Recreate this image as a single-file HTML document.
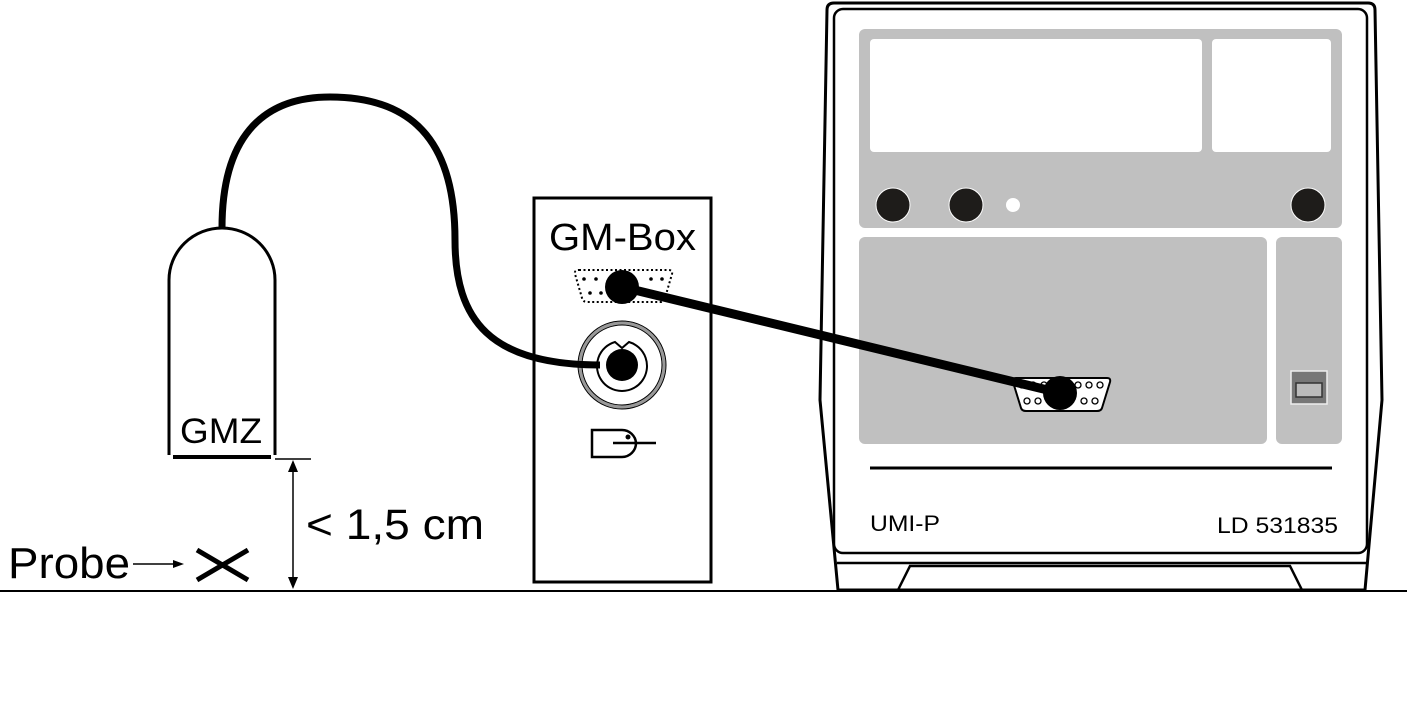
<!DOCTYPE html>
<html><head><meta charset="utf-8"><style>
html,body{margin:0;padding:0;background:#fff;}
svg{display:block;}
text{font-family:"Liberation Sans",sans-serif;fill:#000;}
</style></head><body>
<svg width="1407" height="711" viewBox="0 0 1407 711" xmlns="http://www.w3.org/2000/svg">
<line x1="0" y1="591" x2="1407" y2="591" stroke="#000" stroke-width="2"/>

<!-- UMI-P device -->
<path d="M834,3 L1368,3 Q1375,3 1375,10 L1382,400 L1365,590 L838,590 L820,400 L827,10 Q827,3 834,3 Z" fill="#fff" stroke="#000" stroke-width="3"/>
<rect x="834" y="9" width="533" height="544" rx="9" fill="#fff" stroke="#000" stroke-width="2.5"/>
<line x1="837" y1="563" x2="1366" y2="563" stroke="#000" stroke-width="2.5"/>
<path d="M898,590 L910,566 L1290,566 L1302,590" fill="none" stroke="#000" stroke-width="2.5"/>
<rect x="859" y="29" width="483" height="199" rx="6" fill="#c0c0c0"/>
<rect x="870" y="39" width="332" height="113" rx="4" fill="#fff"/>
<rect x="1212" y="39" width="119" height="113" rx="4" fill="#fff"/>
<circle cx="893" cy="205" r="17" fill="#1e1c1a" stroke="#fff" stroke-width="1"/>
<circle cx="966" cy="205" r="17" fill="#1e1c1a" stroke="#fff" stroke-width="1"/>
<circle cx="1308" cy="205" r="17" fill="#1e1c1a" stroke="#fff" stroke-width="1"/>
<circle cx="1013" cy="205" r="7" fill="#fff"/>
<rect x="859" y="237" width="408" height="207" rx="6" fill="#c0c0c0"/>
<rect x="1276" y="237" width="66" height="207" rx="6" fill="#c0c0c0"/>
<rect x="1291" y="371" width="36" height="33" fill="#777" stroke="#eee" stroke-width="1.5"/>
<rect x="1296" y="383" width="26" height="14" fill="#bbb" stroke="#333" stroke-width="1.5"/>
<path d="M1016,378 L1107,378 Q1111,378 1110,382 L1102,408 Q1101,411 1097,411 L1026,411 Q1022,411 1021,408 L1013,382 Q1012,378 1016,378 Z" fill="#fff" stroke="#000" stroke-width="2"/>
<g fill="none" stroke="#000" stroke-width="1.3">
<circle cx="1022" cy="385" r="3"/><circle cx="1033" cy="385" r="3"/><circle cx="1044" cy="385" r="3"/><circle cx="1078" cy="385" r="3"/><circle cx="1089" cy="385" r="3"/><circle cx="1100" cy="385" r="3"/>
<circle cx="1027" cy="401" r="3"/><circle cx="1038" cy="401" r="3"/><circle cx="1084" cy="401" r="3"/><circle cx="1095" cy="401" r="3"/>
</g>
<line x1="870" y1="468" x2="1332" y2="468" stroke="#000" stroke-width="3"/>
<text x="870" y="531" font-size="22" textLength="70" lengthAdjust="spacingAndGlyphs">UMI-P</text>
<text x="1217" y="533" font-size="22" textLength="121" lengthAdjust="spacingAndGlyphs">LD 531835</text>

<!-- GM-Box -->
<rect x="534" y="198" width="177" height="384" fill="#fff" stroke="#000" stroke-width="3"/>
<text x="549" y="250" font-size="38" textLength="147" lengthAdjust="spacingAndGlyphs">GM-Box</text>
<path d="M579,270 L668,270 Q673,270 672,274 L665,298 Q664,302 660,302 L587,302 Q583,302 582,298 L575,274 Q574,270 579,270 Z" fill="none" stroke="#000" stroke-width="2" stroke-dasharray="2,2.5"/>
<g fill="#000"><circle cx="584" cy="279" r="1.8"/><circle cx="596" cy="279" r="1.8"/><circle cx="651" cy="279" r="1.8"/><circle cx="662" cy="279" r="1.8"/><circle cx="590" cy="293" r="1.8"/><circle cx="601" cy="293" r="1.8"/></g>
<circle cx="622" cy="365" r="42" fill="#fff" stroke="#999" stroke-width="3"/>
<circle cx="622" cy="365" r="44" fill="none" stroke="#000" stroke-width="1"/>
<circle cx="622" cy="365" r="40" fill="none" stroke="#000" stroke-width="1"/>
<path d="M615,342 L622,348 L629,342 A25,25 0 1 1 615,342 Z" fill="#fff" stroke="#000" stroke-width="2"/>
<path d="M622,430 L592,430 L592,457 L622,457 A14,14 0 0 0 636,443 A14,14 0 0 0 622,430" fill="none" stroke="#000" stroke-width="2.5"/>
<line x1="613" y1="443" x2="656" y2="443" stroke="#000" stroke-width="2.5"/>
<circle cx="628" cy="437" r="2.5" fill="#000"/>

<!-- cables -->
<path d="M222,228 C222,140 260,97 330,97 C420,97 455,150 455,240 C455,320 490,365 600,365" fill="none" stroke="#000" stroke-width="7"/>
<line x1="622" y1="287" x2="1060" y2="393" stroke="#000" stroke-width="9"/>
<circle cx="622" cy="287" r="17" fill="#000"/>
<circle cx="622" cy="365" r="16" fill="#000"/>
<circle cx="1060" cy="393" r="17" fill="#000"/>

<!-- GMZ -->
<path d="M169,455 L169,280 A53,52 0 0 1 275,280 L275,455" fill="#fff" stroke="#000" stroke-width="3"/>
<line x1="173" y1="457" x2="271" y2="457" stroke="#000" stroke-width="4"/>
<text x="180" y="443" font-size="35" textLength="82" lengthAdjust="spacingAndGlyphs">GMZ</text>

<!-- dimension -->
<line x1="275" y1="459" x2="311" y2="459" stroke="#000" stroke-width="1.5"/>
<line x1="293" y1="466" x2="293" y2="583" stroke="#000" stroke-width="1.5"/>
<path d="M293,460 L288,472 L298,472 Z M293,589 L288,577 L298,577 Z" fill="#000"/>
<text x="306" y="539" font-size="43" textLength="178" lengthAdjust="spacingAndGlyphs">&lt; 1,5 cm</text>
<text x="8" y="578" font-size="44" textLength="122" lengthAdjust="spacingAndGlyphs">Probe</text>
<line x1="133" y1="564" x2="175" y2="564" stroke="#000" stroke-width="1.5"/>
<path d="M184,564 L173,560 L173,568 Z" fill="#000"/>
<path d="M197,550 L248,580 M197,580 L248,550" stroke="#000" stroke-width="5"/>
</svg>
</body></html>
